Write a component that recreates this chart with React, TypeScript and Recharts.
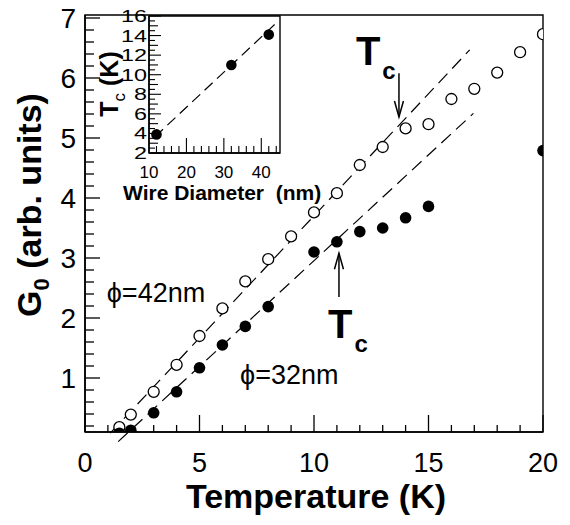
import React from "react";
import {
  ScatterChart,
  Scatter,
  XAxis,
  YAxis,
  ReferenceLine,
  ReferenceDot,
  ReferenceArea,
  Label,
} from "recharts";

// phi = 42 nm (open circles)
const TEMP_42 = [1.5, 2, 3, 4, 5, 6, 7, 8, 9, 10, 11, 12, 13, 14, 15, 16, 17, 18, 19, 20];
const G0_42 = [0.18, 0.39, 0.77, 1.22, 1.7, 2.16, 2.61, 2.98, 3.36, 3.76, 4.08, 4.55, 4.85, 5.16, 5.23, 5.65, 5.82, 6.09, 6.43, 6.73];

// phi = 32 nm (filled circles)
const TEMP_32 = [1.5, 2, 3, 4, 5, 6, 7, 8, 10, 11, 12, 13, 14, 15, 20];
const G0_32 = [0.08, 0.13, 0.42, 0.77, 1.17, 1.55, 1.86, 2.19, 3.1, 3.27, 3.44, 3.5, 3.67, 3.86, 4.79];

// dashed guide lines [x, y]
const FIT_42 = [[1.1, 0.08], [16.8, 6.47]];
const FIT_32 = [[1.45, -0.06], [16.96, 5.41]];

// inset: Tc vs wire diameter
const WIRE_D = [12, 32, 42];
const TC = [3.9, 11.0, 14.1];
const FIT_TC = [[11.6, 3.66], [43.9, 15.25]];

const X_LABELS = [0, 5, 10, 15, 20];
const Y_LABELS = [1, 2, 3, 4, 5, 6, 7];
const INSET_X_LABELS = [20, 30, 40];
const INSET_Y_LABELS = [2, 4, 6, 8, 10, 12, 14, 16];

const FONT = "'Liberation Sans', Arial, Helvetica, sans-serif";

const range = (a: number, b: number, step: number) => {
  const out: number[] = [];
  for (let v = a; v <= b + 1e-9; v += step) out.push(Math.round(v * 100) / 100);
  return out;
};

const data42 = TEMP_42.map((x, i) => ({ x, y: G0_42[i] }));
const data32 = TEMP_32.map((x, i) => ({ x, y: G0_32[i] }));
const insetData = WIRE_D.map((x, i) => ({ x, y: TC[i] }));

const TICK_MARGIN = 9;

const MainYTick = (props: any) => {
  const { x, y, payload } = props;
  const v = payload.value;
  const major = Y_LABELS.includes(v);
  const ax = x + TICK_MARGIN;
  return (
    <g>
      <line x1={ax} x2={ax + (major ? 15 : 9)} y1={y} y2={y} stroke="#000" strokeWidth={1.3} />
      {major && (
        <text x={x} y={y + 10} textAnchor="end" fontSize={28} fontFamily={FONT} fill="#000">
          {v}
        </text>
      )}
    </g>
  );
};

const MainXTick = (props: any) => {
  const { x, y, payload } = props;
  const v = payload.value;
  const major = X_LABELS.includes(v);
  const ay = y - TICK_MARGIN;
  return (
    <g>
      <line x1={x} x2={x} y1={ay} y2={ay - (major ? 17 : 7)} stroke="#000" strokeWidth={1.3} />
      {major && (
        <text x={x} y={ay + 40} textAnchor="middle" fontSize={27} fontFamily={FONT} fill="#000">
          {v}
        </text>
      )}
    </g>
  );
};

const InsetYTick = (props: any) => {
  const { x, y, payload } = props;
  const v = payload.value;
  const major = INSET_Y_LABELS.includes(v);
  const odd = Number.isInteger(v);
  const ax = x + 2;
  return (
    <g>
      <line x1={ax} x2={ax + (major ? 12 : odd ? 9 : 6)} y1={y} y2={y} stroke="#000" strokeWidth={1.1} />
      {major && (
        <text x={x} y={y + 6} textAnchor="end" fontSize={17} fontFamily={FONT} fill="#000"
          textLength={String(v).length * 13} lengthAdjust="spacingAndGlyphs">
          {v}
        </text>
      )}
    </g>
  );
};

const InsetXTick = (props: any) => {
  const { x, y, payload } = props;
  const v = payload.value;
  const major = INSET_X_LABELS.includes(v);
  const ay = y - 2;
  return (
    <g>
      {v > 10 && v < 45 && (
        <line x1={x} x2={x} y1={ay} y2={ay - (major ? 15 : 7)} stroke="#000" strokeWidth={1.1} />
      )}
      {(major || v === 10) && (
        <text x={x} y={ay + 25} textAnchor="middle" fontSize={17} fontFamily={FONT} fill="#000">
          {v}
        </text>
      )}
    </g>
  );
};

const OpenDot = (p: any) => (
  <circle cx={p.cx} cy={p.cy} r={5.5} fill="#fff" stroke="#000" strokeWidth={1.3} />
);
const FilledDot = (p: any) => <circle cx={p.cx} cy={p.cy} r={5.8} fill="#000" />;
const InsetDot = (p: any) => <circle cx={p.cx} cy={p.cy} r={5.3} fill="#000" />;

const Arrow = (p: any) => {
  const { x1, y1, x2, y2 } = p;
  const dir = y2 > y1 ? 1 : -1;
  return (
    <g>
      <line x1={x1} y1={y1} x2={x2} y2={y2} stroke="#000" strokeWidth={1.5} />
      <path
        d={`M${x2 - 4.5},${y2 - dir * 16} L${x2},${y2} L${x2 + 4.5},${y2 - dir * 16}`}
        fill="none"
        stroke="#000"
        strokeWidth={1.5}
      />
    </g>
  );
};

const textAt = (content: React.ReactNode, props: any = {}) => (p: any) => (
  <text x={p.cx} y={p.cy} fontFamily={FONT} fill="#000" {...props}>
    {content}
  </text>
);

const TcLabel = (
  <>
    T
    <tspan fontSize={24} dx={2} dy={14}>c</tspan>
  </>
);

const MainChart = () => (
  <ScatterChart width={570} height={525} margin={{ top: 15, right: 27, bottom: 0, left: 0 }}>
    <XAxis
      type="number"
      dataKey="x"
      domain={[0, 20]}
      ticks={range(0, 20, 1)}
      interval={0}
      height={93}
      tickSize={0}
      tickMargin={TICK_MARGIN}
      tick={<MainXTick />}
      axisLine={{ stroke: "#000", strokeWidth: 1.6 }}
      allowDataOverflow
    >
      <Label
        content={() => (
          <text x={316} y={508} textAnchor="middle" fontSize={34} fontWeight="bold" fontFamily={FONT} fill="#000">
            Temperature (K)
          </text>
        )}
      />
    </XAxis>
    <YAxis
      type="number"
      dataKey="y"
      domain={[0.1, 7.05]}
      ticks={range(0.2, 7, 0.2)}
      interval={0}
      width={85}
      tickSize={0}
      tickMargin={TICK_MARGIN}
      tick={<MainYTick />}
      axisLine={{ stroke: "#000", strokeWidth: 1.6 }}
      allowDataOverflow
    >
      <Label
        content={() => (
          <text
            transform="translate(41, 205) rotate(-90)"
            textAnchor="middle"
            fontSize={34}
            fontWeight="bold"
            fontFamily={FONT}
            fill="#000"
          >
            G<tspan fontSize={22} dy={8}>0</tspan>
            <tspan dy={-8}> (arb. units)</tspan>
          </text>
        )}
      />
    </YAxis>
    <ReferenceArea x1={0} x2={20} y1={0.1} y2={7.05} fill="none" fillOpacity={0} stroke="#000" strokeWidth={1.4} ifOverflow="visible" />
    <ReferenceLine
      segment={FIT_42.map(([x, y]) => ({ x, y }))}
      stroke="#000"
      strokeWidth={1.2}
      strokeDasharray="13 7"
      ifOverflow="visible"
    />
    <ReferenceLine
      segment={FIT_32.map(([x, y]) => ({ x, y }))}
      stroke="#000"
      strokeWidth={1.2}
      strokeDasharray="13 7"
      ifOverflow="visible"
    />
    <Scatter data={data42} shape={OpenDot} isAnimationActive={false} />
    <Scatter data={data32} shape={FilledDot} isAnimationActive={false} />

    <ReferenceLine segment={[{ x: 13.71, y: 6.08 }, { x: 13.71, y: 5.35 }]} shape={Arrow} ifOverflow="visible" />
    <ReferenceLine segment={[{ x: 11.09, y: 2.35 }, { x: 11.09, y: 3.08 }]} shape={Arrow} ifOverflow="visible" />
    <ReferenceDot x={11.83} y={6.22} ifOverflow="visible" shape={textAt(TcLabel, { fontSize: 40, fontWeight: "bold" })} />
    <ReferenceDot x={10.61} y={1.67} ifOverflow="visible" shape={textAt(TcLabel, { fontSize: 40, fontWeight: "bold" })} />
    <ReferenceDot x={0.95} y={2.42} ifOverflow="visible" shape={textAt("\u03D5=42nm", { fontSize: 27, dominantBaseline: "central" })} />
    <ReferenceDot x={6.77} y={1.05} ifOverflow="visible" shape={textAt("\u03D5=32nm", { fontSize: 27, dominantBaseline: "central" })} />
  </ScatterChart>
);

const InsetChart = () => (
  <ScatterChart width={270} height={210} margin={{ top: 16, right: 75, bottom: 0, left: 0 }}>
    <XAxis
      type="number"
      dataKey="x"
      domain={[10, 45]}
      ticks={range(10, 44, 2)}
      interval={0}
      height={57}
      tickSize={0}
      tickMargin={2}
      tick={<InsetXTick />}
      axisLine={{ stroke: "#000", strokeWidth: 1.4 }}
      allowDataOverflow
    >
      <Label
        content={() => (
          <text x={123 - 85} y={200} fontSize={21} fontWeight="bold" fontFamily={FONT} fill="#000">
            Wire Diameter{"\u00A0\u00A0"}(nm)
          </text>
        )}
      />
    </XAxis>
    <YAxis
      type="number"
      dataKey="y"
      domain={[2, 16]}
      ticks={range(2, 16, 0.5)}
      interval={0}
      width={64}
      tickSize={0}
      tickMargin={2}
      tick={<InsetYTick />}
      axisLine={{ stroke: "#000", strokeWidth: 1.4 }}
      allowDataOverflow
    >
      <Label
        content={() => (
          <text
            transform={`translate(${118 - 85}, 84) rotate(-90)`}
            textAnchor="middle"
            fontSize={25}
            fontWeight="bold"
            fontFamily={FONT}
            fill="#000"
          >
            T<tspan fontSize={17} fontWeight="normal" dy={7}>c</tspan>
            <tspan dy={-7}> (K)</tspan>
          </text>
        )}
      />
    </YAxis>
    <ReferenceArea x1={10} x2={45} y1={2} y2={16} fill="none" fillOpacity={0} stroke="#000" strokeWidth={1.4} ifOverflow="visible" />
    <ReferenceLine
      segment={FIT_TC.map(([x, y]) => ({ x, y }))}
      stroke="#000"
      strokeWidth={1.2}
      strokeDasharray="11 6"
      ifOverflow="visible"
    />
    <Scatter data={insetData} shape={InsetDot} isAnimationActive={false} />
  </ScatterChart>
);

export default function App() {
  return (
    <div style={{ position: "absolute", left: 0, top: 0, width: 570, height: 525, background: "#fff" }}>
      <MainChart />
      <div style={{ position: "absolute", left: 85, top: 0 }}>
        <InsetChart />
      </div>
    </div>
  );
}
